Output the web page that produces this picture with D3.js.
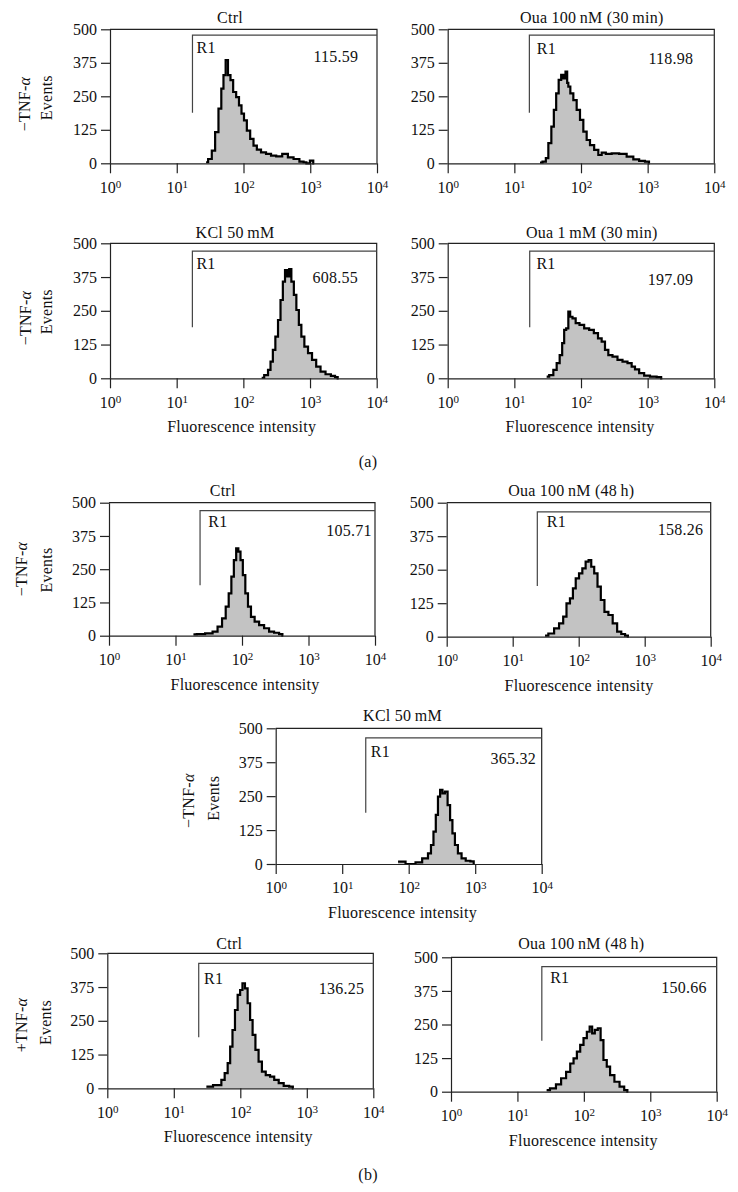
<!DOCTYPE html>
<html><head><meta charset="utf-8">
<script src="https://cdn.jsdelivr.net/npm/d3@7"></script>
<style>
body{margin:0;background:#fff}
text{font-family:"Liberation Serif","Times New Roman",serif;fill:#111}
</style>
</head><body>
<svg id="chart" width="738" height="1192"></svg>
<script>
// ---------- data (log10 fluorescence intensity, events) ----------
const a1Log = [1.44,1.50,1.55,1.60,1.65,1.685,1.715,1.75,1.785,1.825,1.865,1.915,1.95,1.99,2.025,2.075,2.125,2.175,2.225,2.30,2.375,2.45,2.53,2.63,2.70,2.80,2.875,2.925,2.96,3.03,3.06];
const a1Events = [4,16,47,116,204,279,329,385,329,310,266,247,216,185,160,122,91,66,51,41,35,29,26,35,22,16,6,4,0,10,0];

const a2Log = [1.385,1.46,1.485,1.535,1.575,1.61,1.645,1.685,1.72,1.75,1.785,1.80,1.82,1.86,1.91,1.96,2.01,2.06,2.11,2.16,2.235,2.285,2.335,2.41,2.51,2.635,2.735,2.835,2.91,3.01,3.03];
const a2Events = [3,6,19,75,137,199,261,311,330,317,342,300,286,261,236,199,162,118,87,68,50,31,40,35,37,35,25,15,9,6,0];

const a3Log = [2.275,2.35,2.39,2.425,2.46,2.50,2.54,2.575,2.61,2.64,2.675,2.70,2.74,2.775,2.815,2.85,2.89,2.94,3.00,3.06,3.125,3.19,3.275,3.35,3.40,3.43];
const a3Events = [2,12,31,62,105,154,216,290,358,401,377,404,358,309,253,198,154,117,93,68,43,25,15,9,4,0];

const a4Log = [1.485,1.56,1.61,1.66,1.70,1.735,1.76,1.795,1.825,1.85,1.895,1.945,2.01,2.085,2.16,2.225,2.285,2.335,2.385,2.435,2.51,2.585,2.66,2.735,2.785,2.835,2.91,2.985,3.085,3.185,3.22];
const a4Events = [6,12,31,56,86,130,179,185,247,228,222,204,198,185,179,167,148,136,105,86,80,68,62,56,43,33,19,10,6,4,0];

const b1Log = [1.27,1.37,1.52,1.595,1.67,1.73,1.78,1.82,1.86,1.895,1.93,1.96,1.995,2.03,2.07,2.11,2.16,2.22,2.295,2.37,2.445,2.52,2.595,2.62];
const b1Events = [5,6,9,15,34,65,109,159,222,284,328,316,284,228,159,109,71,53,40,28,15,11,6,0];

const b2Log = [1.49,1.59,1.665,1.74,1.79,1.84,1.895,1.93,1.98,2.03,2.08,2.13,2.17,2.21,2.26,2.31,2.36,2.42,2.48,2.55,2.615,2.675,2.73,2.76];
const b2Events = [4,12,31,50,75,124,143,180,218,236,255,280,286,261,236,187,137,93,81,50,19,10,4,0];

const b3Log = [1.84,2.065,2.14,2.265,2.315,2.355,2.39,2.425,2.455,2.49,2.525,2.565,2.605,2.64,2.675,2.715,2.765,2.825,2.89,2.965,2.99];
const b3Events = [9,0,6,21,39,70,119,181,248,273,260,267,217,162,113,70,39,21,12,10,0];

const b4Log = [1.49,1.69,1.74,1.79,1.83,1.865,1.90,1.94,1.98,2.015,2.05,2.09,2.13,2.165,2.205,2.25,2.30,2.35,2.415,2.48,2.54,2.615,2.69,2.78,2.80];
const b4Events = [6,12,31,56,93,154,216,290,346,364,389,370,315,253,198,142,99,62,49,43,31,19,9,6,0];

const b5Log = [1.44,1.54,1.62,1.695,1.77,1.82,1.87,1.92,1.97,2.02,2.07,2.105,2.145,2.185,2.235,2.27,2.32,2.37,2.42,2.50,2.575,2.64,2.67];
const b5Events = [6,12,27,50,74,105,124,149,174,199,223,242,217,230,236,192,118,93,62,37,19,6,0];

const titles = ["Ctrl","Oua 100\u2009nM (30\u2009min)","KCl 50\u2009mM","Oua 1\u2009mM (30\u2009min)","Ctrl","Oua 100\u2009nM (48\u2009h)","KCl 50\u2009mM","Ctrl","Oua 100\u2009nM (48\u2009h)"];
const gateMeans = ["115.59","118.98","608.55","197.09","105.71","158.26","365.32","136.25","150.66"];
const gateX = [17.2,16.8,17.2,17.0,23.4,23.6,22.6,23.7,23.3];
const gateTop = [478,478,471,471,470,466,465,463,465];
const gateBottom = [189,189,189,189,190,189,189,189,190];
const treatment = ["\u2212","","\u2212","","\u2212","","\u2212","+",""];
const yTicks = [0,125,250,375,500];
const xTicks = [1,10,100,1000,10000];

const logs = [a1Log,a2Log,a3Log,a4Log,b1Log,b2Log,b3Log,b4Log,b5Log];
const events = [a1Events,a2Events,a3Events,a4Events,b1Events,b2Events,b3Events,b4Events,b5Events];

// ---------- layout ----------
const layout = [
  {l:110,  r:377,   t:29.3,  b:163.3, tx:230,   ty:22.7,  r1dx:4,   r1dy:18.3, vdx:18.7, vdy:33,   xl:null, yl:{x1:24, y1:104, x2:46.7, y2:97.7}},
  {l:447.7,r:714.3, t:29.3,  b:163.3, tx:591.7, ty:22.7,  r1dx:7.4, r1dy:19.3, vdx:21,   vdy:34.7, xl:null, yl:null},
  {l:110,  r:376.7, t:243.3, b:378.3, tx:235,   ty:237.5, r1dx:4,   r1dy:18.3, vdx:18.7, vdy:39.7, xl:241.7, yl:{x1:25, y1:318, x2:46.7, y2:311.7}},
  {l:447.7,r:714.3, t:243.3, b:378.3, tx:591.7, ty:237.7, r1dx:6.7, r1dy:18.3, vdx:21,   vdy:41.7, xl:580, yl:null},
  {l:109,  r:375,   t:502.7, b:635.7, tx:222.7, ty:496,   r1dx:8.3, r1dy:16,   vdx:3.3,  vdy:33.3, xl:245, yl:{x1:21.7, y1:569, x2:46.7, y2:570}},
  {l:446.7,r:710.7, t:502.7, b:636.7, tx:571.3, ty:496,   r1dx:9.4, r1dy:15,   vdx:7.4,  vdy:32.3, xl:579, yl:null},
  {l:275.7,r:541.7, t:728.3, b:864,   tx:402.5, ty:720.7, r1dx:5,   r1dy:19,   vdx:5.7,  vdy:35.7, xl:402.5, yl:{x1:188.3, y1:800.7, x2:213.3, y2:798.3}},
  {l:107.3,r:373.3, t:953.3, b:1088.3,tx:229.3, ty:949.3, r1dx:5.3, r1dy:20.7, vdx:9,    vdy:40.7, xl:238.3, yl:{x1:21.7, y1:1025, x2:45, y2:1022.5}},
  {l:451,  r:716.7, t:957.3, b:1091.7,tx:581.3, ty:949.3, r1dx:8.3, r1dy:16.6, vdx:10,   vdy:35.4, xl:583.3, yl:null}
];

const FS = 16;
const LS = "0.25px";
const svg = d3.select("#chart");
svg.append("rect").attr("width",738).attr("height",1192).attr("fill","#fff");

function txt(sel){ return sel.attr("font-size",FS).attr("letter-spacing",LS); }

layout.forEach((p,i)=>{
  const g = svg.append("g");
  const x = d3.scaleLog().domain([1,1e4]).range([p.l,p.r]);
  const y = d3.scaleLinear().domain([0,500]).range([p.b,p.t]);
  const pts = logs[i].map((v,k)=>[Math.pow(10,v), events[i][k]]);

  const area = d3.area().x(d=>x(d[0])).y0(y(0)).y1(d=>y(d[1])).curve(d3.curveStep);
  const line = d3.line().x(d=>x(d[0])).y(d=>y(d[1])).curve(d3.curveStep);
  g.append("path").datum(pts).attr("d",area).attr("fill","#c3c3c3");
  g.append("path").datum(pts).attr("d",line).attr("fill","none").attr("stroke","#000").attr("stroke-width",2.2).attr("stroke-linejoin","miter");

  // frame top & right
  g.append("path").attr("d",`M${x(1)},${y(500)}H${x(1e4)}V${y(0)}`)
    .attr("fill","none").attr("stroke","#222").attr("stroke-width",1.2);

  // axes
  const ya = d3.axisLeft(y).tickValues(yTicks).tickSize(9).tickPadding(4).tickSizeOuter(0);
  const yg = g.append("g").attr("transform",`translate(${p.l},0)`).call(ya);
  const xa = d3.axisBottom(x).tickValues(xTicks).tickSize(10).tickPadding(8).tickSizeOuter(0).tickFormat(()=>"");
  const xg = g.append("g").attr("transform",`translate(0,${p.b})`).call(xa);
  [yg,xg].forEach(ax=>{
    ax.selectAll("path,line").attr("stroke","#222").attr("stroke-width",1.2);
    ax.selectAll("text").attr("font-size",FS).attr("font-family","Liberation Serif, serif").attr("fill","#111");
  });
  xg.selectAll(".tick text").each(function(d){
    const t = d3.select(this);
    t.text("10");
    t.append("tspan").attr("dy","-0.42em").attr("font-size",11).text(Math.round(Math.log10(d)));
  });

  // gate R1
  const gx = x(gateX[i]);
  g.append("path").attr("d",`M${gx},${y(gateBottom[i])}V${y(gateTop[i])}H${x(1e4)}`)
    .attr("fill","none").attr("stroke","#444").attr("stroke-width",1.2);
  txt(g.append("text")).attr("x",gx+p.r1dx).attr("y",y(gateTop[i])+p.r1dy).text("R1");
  txt(g.append("text")).attr("x",p.r-p.vdx).attr("y",p.t+p.vdy).attr("text-anchor","end").text(gateMeans[i]);

  // title
  txt(g.append("text")).attr("x",p.tx).attr("y",p.ty).attr("text-anchor","middle").text(titles[i]);

  // x label
  if(p.xl!==null){
    txt(g.append("text")).attr("x",p.xl).attr("y",p.b+54).attr("text-anchor","middle").text("Fluorescence intensity");
  }
  // y labels
  if(p.yl){
    const t1 = txt(g.append("text")).attr("transform",`translate(${p.yl.x1},${p.yl.y1}) rotate(-90)`)
      .attr("text-anchor","middle").attr("dy","0.35em");
    t1.append("tspan").text(treatment[i]+"TNF-");
    t1.append("tspan").attr("font-style","italic").text("\u03b1");
    txt(g.append("text")).attr("transform",`translate(${p.yl.x2},${p.yl.y2}) rotate(-90)`)
      .attr("text-anchor","middle").attr("dy","0.35em").text("Events");
  }
});

txt(svg.append("text")).attr("x",368).attr("y",467).attr("text-anchor","middle").text("(a)");
txt(svg.append("text")).attr("x",368).attr("y",1180).attr("text-anchor","middle").text("(b)");
</script>
</body></html>
